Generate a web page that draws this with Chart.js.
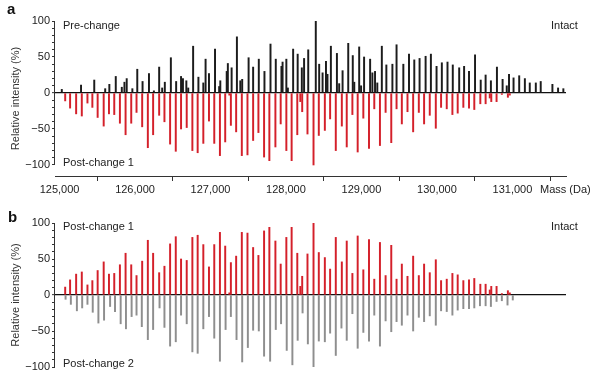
<!DOCTYPE html>
<html>
<head>
<meta charset="utf-8">
<script src="https://cdn.jsdelivr.net/npm/chart.js@4.4.1/dist/chart.umd.min.js"></script>
<style>
  body { margin: 0; background: #fff; }
  #page { position: relative; width: 595px; height: 376px; overflow: hidden;
          font-family: "Liberation Sans", Arial, sans-serif; color: #222; }
  .panel { position: absolute; left: 0; width: 595px; }
  .txt { position: absolute; font-size: 11px; line-height: 13px; white-space: nowrap; }
  .letter { position: absolute; font-size: 15px; line-height: 15px; font-weight: bold; color: #111; }
</style>
</head>
<body>
<div id="page">
  <div class="panel" style="top:0;height:200px"><canvas id="chartA" width="595" height="200"></canvas></div>
  <div class="panel" style="top:200px;height:176px"><canvas id="chartB" width="595" height="176"></canvas></div>

  <div class="letter" style="left:7px;top:1px">a</div>
  <div class="txt" style="left:63px;top:19px">Pre-change</div>
  <div class="txt" style="left:551px;top:19px">Intact</div>
  <div class="txt" style="left:63px;top:156px">Post-change 1</div>
  <div class="txt" style="left:540px;top:183px">Mass (Da)</div>

  <div class="letter" style="left:8px;top:209px">b</div>
  <div class="txt" style="left:63px;top:220px">Post-change 1</div>
  <div class="txt" style="left:551px;top:220px">Intact</div>
  <div class="txt" style="left:63px;top:357px">Post-change 2</div>
</div>

<script>
// axis ticks
const massTicks = [125000, 126000, 127000, 128000, 129000, 130000, 131000];
const massTickLabels = ["125,000", "126,000", "127,000", "128,000", "129,000", "130,000", "131,000"];
const yTickValues = [-100, -90, -80, -70, -60, -50, -40, -30, -20, -10, 0, 10, 20, 30, 40, 50, 60, 70, 80, 90, 100];
const yTickLabels = { "100": "100", "50": "50", "0": "0", "-50": "\u221250", "-100": "\u2212100" };

// Pre-change (panel a, up)
const preMass = [125030, 125285, 125460, 125605, 125660, 125745, 125825, 125860, 125890, 125965,
  126030, 126100, 126185, 126250, 126320, 126360, 126395, 126475, 126545, 126610,
  126635, 126680, 126705, 126770, 126840, 126905, 126935, 126980, 127060, 127115,
  127130, 127215, 127230, 127280, 127350, 127395, 127420, 127505, 127565, 127640,
  127715, 127795, 127865, 127940, 127955, 128005, 128025, 128095, 128155, 128210,
  128240, 128295, 128395, 128440, 128485, 128530, 128550, 128595, 128675, 128705,
  128750, 128825, 128885, 128905, 128970, 128995, 129035, 129115, 129145, 129180,
  129210, 129270, 129330, 129410, 129465, 129555, 129630, 129700, 129770, 129850,
  129920, 129995, 130065, 130140, 130210, 130295, 130360, 130425, 130505, 130580,
  130645, 130715, 130795, 130870, 130925, 130955, 131015, 131090, 131165, 131230,
  131310, 131375, 131530, 131605, 131675];
const preIntensity = [5, 11, 18, 6, 12, 23, 8, 15, 20, 6,
  33, 16, 27, 3, 36, 7, 15, 49, 16, 23,
  20, 17, 7, 65, 22, 14, 47, 27, 61, 9,
  17, 30, 41, 35, 78, 17, 19, 49, 36, 47,
  30, 68, 47, 37, 43, 47, 7, 61, 54, 35,
  48, 60, 100, 40, 28, 44, 26, 65, 55, 13,
  31, 69, 52, 15, 64, 10, 50, 47, 28, 30,
  14, 65, 39, 40, 67, 40, 54, 46, 48, 51,
  54, 37, 42, 43, 39, 35, 37, 30, 53, 18,
  25, 17, 36, 19, 10, 26, 21, 24, 20, 14,
  14, 16, 12, 7, 6];

// Post-change 1 (panel a down, panel b up)
const post1Mass = [125075, 125140, 125220, 125295, 125370, 125435, 125505, 125585, 125655, 125725,
  125800, 125875, 125950, 126020, 126095, 126170, 126240, 126320, 126390, 126465,
  126540, 126610, 126685, 126760, 126830, 126905, 126980, 127050, 127125, 127195,
  127250, 127270, 127340, 127415, 127490, 127565, 127635, 127710, 127780, 127860,
  127930, 128005, 128075, 128150, 128190, 128215, 128285, 128365, 128435, 128515,
  128585, 128660, 128740, 128805, 128880, 128950, 129025, 129100, 129170, 129245,
  129320, 129395, 129465, 129535, 129610, 129685, 129760, 129830, 129905, 129985,
  130055, 130130, 130205, 130275, 130350, 130425, 130495, 130575, 130645, 130700,
  130720, 130790, 130860, 130940, 130965];
const post1Intensity = [11, 21, 29, 32, 14, 20, 34, 46, 29, 30,
  42, 58, 42, 27, 47, 76, 58, 31, 40, 71,
  81, 50, 48, 80, 83, 70, 39, 70, 87, 68,
  3, 45, 54, 87, 86, 66, 55, 89, 94, 75,
  43, 80, 94, 58, 12, 26, 57, 100, 59, 52,
  36, 80, 46, 75, 30, 82, 35, 77, 22, 73,
  27, 69, 22, 43, 26, 54, 27, 43, 31, 49,
  20, 22, 30, 28, 20, 21, 23, 15, 15, 7,
  12, 12, 2, 6, 3];

// Post-change 2 (panel b, down)
const post2Mass = [125080, 125150, 125230, 125300, 125370, 125440, 125515, 125590, 125670, 125735,
  125810, 125880, 125955, 126020, 126090, 126170, 126240, 126325, 126390, 126465,
  126540, 126610, 126685, 126760, 126830, 126905, 126980, 127050, 127125, 127200,
  127270, 127345, 127420, 127495, 127565, 127640, 127710, 127790, 127865, 127935,
  128010, 128085, 128155, 128220, 128290, 128365, 128435, 128515, 128585, 128660,
  128735, 128805, 128880, 128950, 129025, 129100, 129170, 129245, 129320, 129395,
  129465, 129535, 129610, 129685, 129760, 129830, 129905, 129985, 130055, 130130,
  130205, 130275, 130350, 130425, 130495, 130570, 130645, 130715, 130790, 130860,
  130935, 131005];
const post2Intensity = [6, 13, 22, 18, 13, 24, 39, 35, 16, 23,
  40, 47, 30, 28, 44, 62, 48, 18, 45, 71,
  65, 28, 40, 79, 81, 47, 30, 60, 92, 48,
  30, 62, 93, 73, 49, 50, 85, 92, 48, 40,
  77, 97, 63, 25, 68, 100, 64, 65, 53, 84,
  46, 63, 26, 74, 52, 64, 28, 71, 36, 51,
  37, 42, 28, 50, 31, 37, 29, 42, 22, 23,
  28, 21, 19, 19, 18, 15, 15, 16, 9, 8,
  14, 7];

Chart.defaults.font.family = '"Liberation Sans", Arial, sans-serif';
Chart.defaults.font.size = 11;
Chart.defaults.color = "#222";

function peaks(mass, inten, sign) {
  return mass.map((m, i) => ({ x: m, y: sign * inten[i] }));
}

// axis line only between -100 and 100, like the figure
const yAxisLine = {
  id: "yAxisLine",
  afterDraw(chart) {
    const y = chart.scales.y;
    const ctx = chart.ctx;
    ctx.save();
    ctx.strokeStyle = "#333";
    ctx.lineWidth = 1;
    ctx.beginPath();
    ctx.moveTo(y.right - 0.5, y.getPixelForValue(100));
    ctx.lineTo(y.right - 0.5, y.getPixelForValue(-100));
    ctx.stroke();
    ctx.restore();
  }
};

function makeOptions(showX, yMin, pad) {
  return {
    responsive: false,
    animation: false,
    devicePixelRatio: 1,
    layout: { padding: pad },
    plugins: { legend: { display: false }, tooltip: { enabled: false } },
    datasets: { bar: { barThickness: 1.3, grouped: false, borderWidth: 0 } },
    scales: {
      x: {
        type: "linear",
        display: showX,
        min: 124940,
        max: 131710,
        offset: false,
        afterBuildTicks: s => { s.ticks = massTicks.map(v => ({ value: v })); },
        afterFit: s => { s.height = showX ? 24 : 0; },
        ticks: {
          autoSkip: false,
          maxRotation: 0,
          padding: 2,
          callback: (v, i) => massTickLabels[i]
        },
        grid: { drawOnChartArea: false, tickLength: 5, color: "#333" },
        border: { display: true, color: "#333", width: 1 }
      },
      y: {
        min: yMin,
        max: 100,
        afterBuildTicks: s => { s.ticks = yTickValues.map(v => ({ value: v })); },
        afterFit: s => { s.width = 47; },
        ticks: {
          autoSkip: false,
          padding: 2,
          callback: v => yTickLabels[String(v)] || ""
        },
        title: {
          display: true,
          text: "Relative intensity (%)",
          color: "#333",
          font: { size: 11 },
          padding: { top: 1, bottom: 0 }
        },
        grid: {
          color: c => (c.tick && c.tick.value === 0 ? "#111" : "rgba(0,0,0,0)"),
          lineWidth: c => (c.tick && c.tick.value === 0 ? 1.3 : 1),
          tickColor: "#333",
          tickWidth: 1,
          tickLength: 3
        },
        border: { display: false }
      }
    }
  };
}

new Chart(document.getElementById("chartA"), {
  type: "bar",
  data: {
    datasets: [
      { label: "Pre-change", data: peaks(preMass, preIntensity, 1), backgroundColor: "#1c1c1c" },
      { label: "Post-change 1", data: peaks(post1Mass, post1Intensity, -1), backgroundColor: "#d4202a" }
    ]
  },
  options: makeOptions(true, -115.3, { top: 21, left: 8, right: 29, bottom: 0 }),
  plugins: [yAxisLine]
});

new Chart(document.getElementById("chartB"), {
  type: "bar",
  data: {
    datasets: [
      { label: "Post-change 1", data: peaks(post1Mass, post1Intensity, 1), backgroundColor: "#d4202a" },
      { label: "Post-change 2", data: peaks(post2Mass, post2Intensity, -1), backgroundColor: "#8e8e8e" }
    ]
  },
  options: makeOptions(false, -100, { top: 23, left: 8, right: 29, bottom: 9 }),
  plugins: [yAxisLine]
});
</script>
</body>
</html>
